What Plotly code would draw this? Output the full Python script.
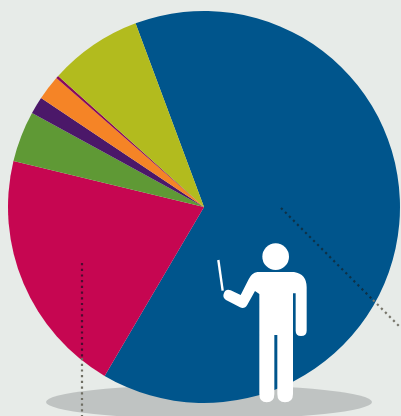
import plotly.graph_objects as go

W, H = 401, 416

# Share of the whole (percent)
categories = ["Blue", "Crimson", "Green", "Purple", "Orange", "Magenta", "Olive"]
values = [64.15, 20.3, 4.2, 1.42, 2.04, 0.22, 7.68]
colors = ["#00558c", "#c60651", "#5f9935", "#4b1869", "#f58426", "#8a0a5c", "#b2bb1e"]

BG = "#e7ebe8"
CX, CY, R = 204, 207, 196


def px(x):
    return x / W


def py(y):
    return 1 - y / H


def path(cmds):
    """Turn commands in page pixels (y downward) into a paper-coordinate path."""
    out = []
    for c in cmds:
        if c == "Z":
            out.append("Z")
            continue
        pts = " ".join(f"{px(x):.5f},{py(y):.5f}" for x, y in c[1:])
        out.append(c[0] + pts)
    return " ".join(out)


def z(x, y):
    return (200 + x / 3, 200 + y / 3)


person = [
    ("M", z(172, 216)),
    ("L", z(282, 216)),
    ("Q", z(320, 222), z(320, 262)),
    ("L", z(320, 392)),
    ("Q", z(320, 408), z(303, 408)),
    ("Q", z(287, 408), z(287, 392)),
    ("L", z(287, 280)),
    ("L", z(279, 280)),
    ("L", z(279, 582)),
    ("Q", z(279, 607), z(255, 607)),
    ("Q", z(232, 607), z(232, 582)),
    ("L", z(232, 405)),
    ("L", z(223, 405)),
    ("L", z(223, 582)),
    ("Q", z(223, 607), z(200, 607)),
    ("Q", z(178, 607), z(178, 582)),
    ("L", z(178, 282)),
    ("L", z(165, 273)),
    ("L", z(142, 314)),
    ("Q", z(134, 328), z(120, 322)),
    ("L", z(78, 300)),
    ("Q", z(66, 292), z(72, 279)),
    ("Q", z(78, 265), z(92, 271)),
    ("L", z(122, 285)),
    ("L", z(146, 238)),
    ("Q", z(155, 218), z(172, 216)),
    "Z",
]


def dotted(x0, y0, x1, y1, color):
    return dict(
        type="line", xref="paper", yref="paper", layer="above",
        x0=px(x0), y0=py(y0), x1=px(x1), y1=py(y1),
        line=dict(color=color, width=2.2, dash="2.2px,3.5px"),
    )


hx, hy = z(227, 170)
hr = 40 / 3
p0, p1 = z(55, 180), z(68, 272)

shapes = [
    dict(type="circle", xref="paper", yref="paper", layer="below",
         x0=px(46), x1=px(372), y0=py(419), y1=py(385),
         fillcolor="#bfc3c2", line=dict(width=0)),
    dotted(281, 208, 373, 300, "#0e3146"),
    dotted(373, 300, 401, 328, "#77756a"),
    dotted(82, 263, 82, 358, "#4c0b30"),
    dotted(82, 358, 82, 416, "#6f6e63"),
    dict(type="path", xref="paper", yref="paper", layer="above",
         path=path(person), fillcolor="white", line=dict(width=0)),
    dict(type="circle", xref="paper", yref="paper", layer="above",
         x0=px(hx - hr), x1=px(hx + hr), y0=py(hy + hr), y1=py(hy - hr),
         fillcolor="white", line=dict(width=0)),
    dict(type="line", xref="paper", yref="paper", layer="above",
         x0=px(p0[0]), y0=py(p0[1]), x1=px(p1[0]), y1=py(p1[1]),
         line=dict(color="white", width=2.4)),
]

fig = go.Figure(
    go.Pie(
        labels=categories,
        values=values,
        sort=False,
        direction="clockwise",
        rotation=-20.45,
        textinfo="none",
        hoverinfo="skip",
        marker=dict(colors=colors, line=dict(width=0)),
        domain=dict(
            x=[px(CX - R), px(CX + R)],
            y=[py(CY + R), py(CY - R)],
        ),
        showlegend=False,
    )
)

fig.update_layout(
    width=W,
    height=H,
    autosize=False,
    margin=dict(l=0, r=0, t=0, b=0),
    paper_bgcolor=BG,
    plot_bgcolor=BG,
    shapes=shapes,
)

fig.write_html(
    "out.html",
    config=dict(displayModeBar=False),
    post_script=(
        "document.documentElement.style.margin='0';"
        "document.documentElement.style.overflow='hidden';"
        "document.body.style.margin='0';"
        "document.body.style.overflow='hidden';"
        f"document.body.style.background='{BG}';"
    ),
)
